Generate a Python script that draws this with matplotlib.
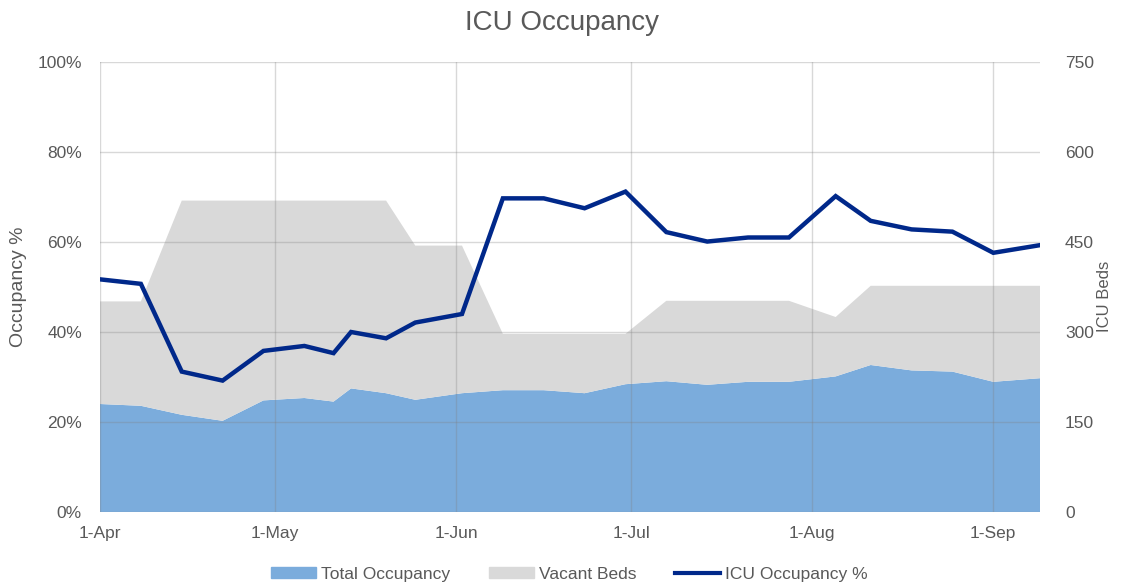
"""
ICU occupancy chart: stacked bed areas (right axis) with occupancy % line (left axis).
"""

import matplotlib
matplotlib.use("Agg")
import matplotlib.pyplot as plt
import matplotlib.patches as mpatches
from matplotlib.lines import Line2D
import pandas as pd

plt.rcParams["font.family"] = ["Liberation Sans", "DejaVu Sans"]

# data
dates = pd.to_datetime([
    "2020-04-01", "2020-04-08", "2020-04-15", "2020-04-22", "2020-04-29",
    "2020-05-06", "2020-05-11", "2020-05-14", "2020-05-20", "2020-05-25",
    "2020-06-02", "2020-06-09", "2020-06-16", "2020-06-23", "2020-06-30",
    "2020-07-07", "2020-07-14", "2020-07-21", "2020-07-28", "2020-08-05",
    "2020-08-11", "2020-08-18", "2020-08-25", "2020-09-01", "2020-09-09",
])
total_occupancy = [180, 177, 162, 152, 186, 190, 184, 206, 198, 187,
                   198, 203, 203, 198, 213, 218, 212, 217, 217, 226,
                   245, 236, 234, 217, 223]
vacant_beds = [171, 174, 357, 367, 333, 329, 335, 313, 321, 257,
               246, 94, 94, 99, 84, 134, 140, 135, 135, 99,
               132, 141, 143, 160, 154]
occupancy_pct = [51.7, 50.7, 31.2, 29.2, 35.8, 36.9, 35.3, 40.0, 38.6, 42.1,
                 44.0, 69.7, 69.7, 67.5, 71.2, 62.2, 60.1, 61.0, 61.0, 70.2,
                 64.7, 62.8, 62.3, 57.6, 59.3]

month_ticks = pd.to_datetime(["2020-04-01", "2020-05-01", "2020-06-01",
                              "2020-07-01", "2020-08-01", "2020-09-01"])
month_labels = ["1-Apr", "1-May", "1-Jun", "1-Jul", "1-Aug", "1-Sep"]
pct_ticks = [0, 20, 40, 60, 80, 100]
bed_ticks = [0, 150, 300, 450, 600, 750]

BLUE = "#7BACDC"
GREY = "#D9D9D9"
NAVY = "#00288A"
TEXT = "#595959"

fig = plt.figure(figsize=(11.21, 5.87), dpi=100)
ax = fig.add_axes([100 / 1121, 1 - 512 / 587, 940 / 1121, 450 / 587])
ax2 = ax.twinx()

# areas on the beds axis
ax2.stackplot(dates, total_occupancy, vacant_beds, colors=[BLUE, GREY], lw=0)
ax2.set_ylim(0, 750)
ax2.set_yticks(bed_ticks)
ax2.set_ylabel("ICU Beds", fontsize=12, color=TEXT, rotation=90)
ax2.yaxis.set_label_coords(1.061, 0.48)

# occupancy line on the percent axis, drawn above the areas
ax.set_zorder(ax2.get_zorder() + 1)
ax.patch.set_visible(False)
ax.plot(dates, occupancy_pct, color=NAVY, lw=3.2, solid_joinstyle="miter", zorder=3)
ax.set_ylim(0, 100)
ax.set_yticks(pct_ticks)
ax.set_yticklabels([f"{v}%" for v in pct_ticks])
ax.set_ylabel("Occupancy %", fontsize=14, color=TEXT)
ax.yaxis.set_label_coords(-0.0777, 0.5)

ax.set_xlim(dates[0], dates[-1])
ax.set_xticks(month_ticks)
ax.set_xticklabels(month_labels)

ax.grid(True, color="#808080", alpha=0.3, lw=1)
ax.set_axisbelow(True)

for a in (ax, ax2):
    for s in a.spines.values():
        s.set_visible(False)
    a.tick_params(length=0, labelsize=12.5, labelcolor=TEXT)
ax.tick_params(axis="y", pad=13)
ax.tick_params(axis="x", pad=10)
ax2.tick_params(axis="y", pad=18)

fig.text(0.501, 0.96, "ICU Occupancy", ha="center", va="center",
         fontsize=20, color=TEXT)

handles = [
    mpatches.Patch(color=BLUE, label="Total Occupancy"),
    mpatches.Patch(color=GREY, label="Vacant Beds"),
    Line2D([], [], color=NAVY, lw=3, label="ICU Occupancy %"),
]
leg = fig.legend(handles=handles, loc="center", bbox_to_anchor=(0.508, 0.022),
                 ncol=3, frameon=False, fontsize=12.5, handlelength=2.6,
                 handleheight=0.6, handletextpad=0.3, columnspacing=2.2)
for t in leg.get_texts():
    t.set_color(TEXT)

fig.savefig("out.png", dpi=100)
